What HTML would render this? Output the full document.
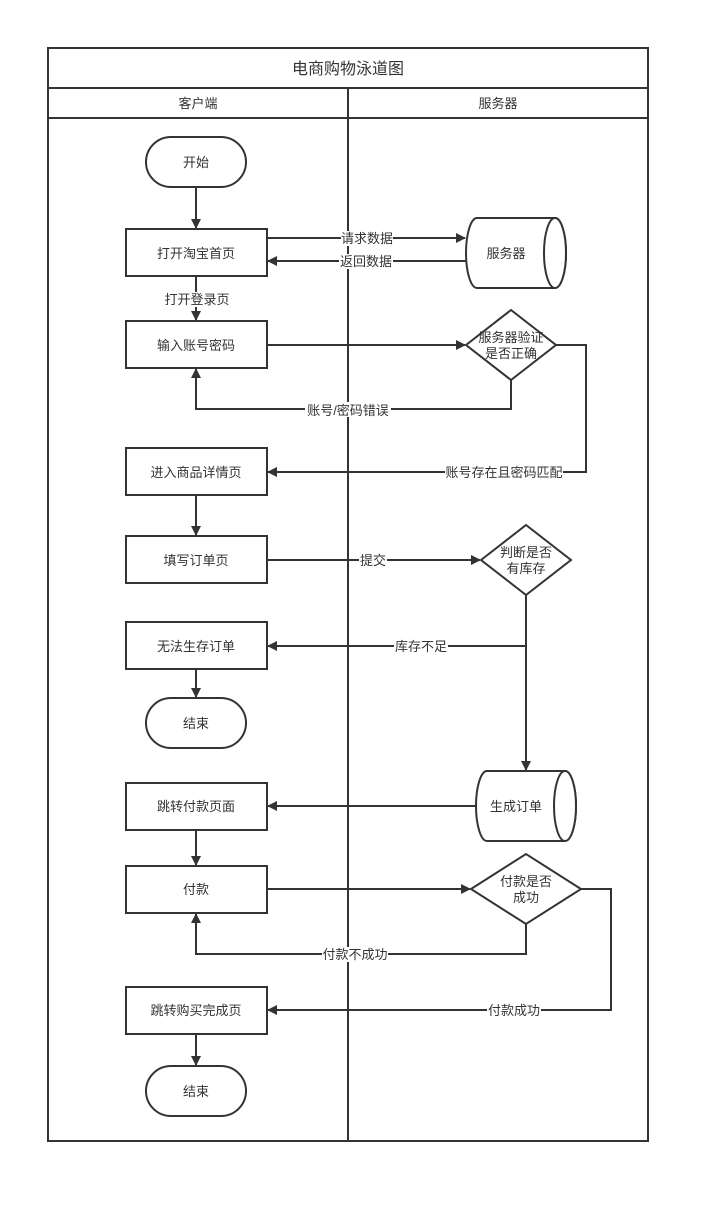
<!DOCTYPE html>
<html><head><meta charset="utf-8"><style>
html,body{margin:0;padding:0;background:#fff;}
svg text{font-family:"Liberation Sans","Noto Sans CJK SC",sans-serif;font-size:13px;fill:#333;}
</style></head><body>
<svg width="710" height="1204" viewBox="0 0 710 1204" xmlns="http://www.w3.org/2000/svg">
<defs><marker id="a" markerWidth="10" markerHeight="10" refX="9" refY="5" orient="auto" markerUnits="userSpaceOnUse"><path d="M0,0 L10,5 L0,10 Z" fill="#333"/></marker></defs>
<g fill="none" stroke="#333" stroke-width="2">
<rect x="48" y="48" width="600" height="1093"/>
<line x1="48" y1="88" x2="648" y2="88"/>
<line x1="48" y1="118" x2="648" y2="118"/>
<line x1="348" y1="88" x2="348" y2="1141"/>
</g>
<g fill="#fff" stroke="#333" stroke-width="2">
<rect x="146" y="137" width="100" height="50" rx="25"/>
<rect x="126" y="229" width="141" height="47"/>
<rect x="126" y="321" width="141" height="47"/>
<rect x="126" y="448" width="141" height="47"/>
<rect x="126" y="536" width="141" height="47"/>
<rect x="126" y="622" width="141" height="47"/>
<rect x="146" y="698" width="100" height="50" rx="25"/>
<rect x="126" y="783" width="141" height="47"/>
<rect x="126" y="866" width="141" height="47"/>
<rect x="126" y="987" width="141" height="47"/>
<rect x="146" y="1066" width="100" height="50" rx="25"/>
<path d="M477,218 L555,218 A11,35 0 0 1 555,288 L477,288 A11,35 0 0 1 477,218 Z"/>
<ellipse cx="555" cy="253" rx="11" ry="35"/>
<path d="M487,771 L565,771 A11,35 0 0 1 565,841 L487,841 A11,35 0 0 1 487,771 Z"/>
<ellipse cx="565" cy="806" rx="11" ry="35"/>
<polygon points="466,345 511,310 556,345 511,380"/>
<polygon points="481,560 526,525 571,560 526,595"/>
<polygon points="471,889 526,854 581,889 526,924"/>
</g>
<g fill="none" stroke="#333" stroke-width="2">
<line x1="196" y1="187" x2="196" y2="228" marker-end="url(#a)"/>
<line x1="267" y1="238" x2="465" y2="238" marker-end="url(#a)"/>
<line x1="466" y1="261" x2="268" y2="261" marker-end="url(#a)"/>
<line x1="196" y1="276" x2="196" y2="320" marker-end="url(#a)"/>
<line x1="267" y1="345" x2="465" y2="345" marker-end="url(#a)"/>
<polyline points="511,380 511,409 196,409 196,369" marker-end="url(#a)"/>
<polyline points="556,345 586,345 586,472 268,472" marker-end="url(#a)"/>
<line x1="196" y1="495" x2="196" y2="535" marker-end="url(#a)"/>
<line x1="267" y1="560" x2="480" y2="560" marker-end="url(#a)"/>
<polyline points="526,595 526,646 268,646" marker-end="url(#a)"/>
<line x1="526" y1="646" x2="526" y2="770" marker-end="url(#a)"/>
<line x1="196" y1="669" x2="196" y2="697" marker-end="url(#a)"/>
<line x1="476" y1="806" x2="268" y2="806" marker-end="url(#a)"/>
<line x1="196" y1="830" x2="196" y2="865" marker-end="url(#a)"/>
<line x1="267" y1="889" x2="470" y2="889" marker-end="url(#a)"/>
<polyline points="526,924 526,954 196,954 196,914" marker-end="url(#a)"/>
<polyline points="581,889 611,889 611,1010 268,1010" marker-end="url(#a)"/>
<line x1="196" y1="1034" x2="196" y2="1065" marker-end="url(#a)"/>
</g>
<g fill="#fff">
<rect x="341" y="231" width="52" height="15"/><rect x="339" y="254" width="54" height="15"/>
<rect x="163" y="292" width="68" height="15"/><rect x="305" y="402" width="86" height="15"/>
<rect x="445" y="465" width="118" height="15"/><rect x="359" y="553" width="28" height="15"/>
<rect x="394" y="639" width="54" height="15"/><rect x="322" y="947" width="66" height="15"/>
<rect x="487" y="1003" width="54" height="15"/>
</g>
<g text-anchor="middle">
<text x="348" y="74" style="font-size:16px">电商购物泳道图</text>
<text x="198" y="108">客户端</text>
<text x="498" y="108">服务器</text>
<text x="196" y="167">开始</text>
<text x="196" y="258">打开淘宝首页</text>
<text x="506" y="258">服务器</text>
<text x="367" y="243">请求数据</text>
<text x="366" y="266">返回数据</text>
<text x="197" y="304">打开登录页</text>
<text x="196" y="350">输入账号密码</text>
<text x="511" y="342">服务器验证</text>
<text x="511" y="358">是否正确</text>
<text x="348" y="415">账号/密码错误</text>
<text x="504" y="477">账号存在且密码匹配</text>
<text x="196" y="477">进入商品详情页</text>
<text x="196" y="565">填写订单页</text>
<text x="373" y="565">提交</text>
<text x="526" y="557">判断是否</text>
<text x="526" y="573">有库存</text>
<text x="196" y="651">无法生存订单</text>
<text x="421" y="651">库存不足</text>
<text x="196" y="728">结束</text>
<text x="516" y="811">生成订单</text>
<text x="196" y="811">跳转付款页面</text>
<text x="196" y="894">付款</text>
<text x="526" y="886">付款是否</text>
<text x="526" y="902">成功</text>
<text x="355" y="959">付款不成功</text>
<text x="514" y="1015">付款成功</text>
<text x="196" y="1015">跳转购买完成页</text>
<text x="196" y="1096">结束</text>
</g>
</svg>
</body></html>
